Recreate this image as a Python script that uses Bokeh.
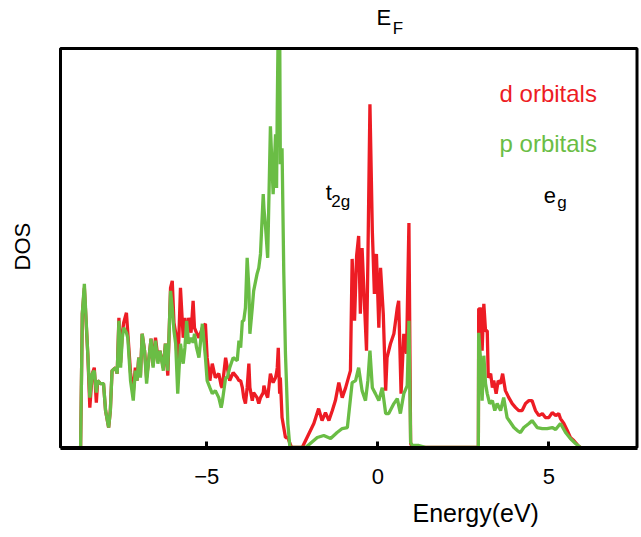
from bokeh.plotting import figure
from bokeh.models import Range1d, FixedTicker, Label, Title
from bokeh.embed import file_html
from bokeh.resources import INLINE

# ---- data (energy in eV, DOS in arbitrary units) ----
# valence band region (shared energy grid)
energy_vb = [-8.69, -8.64, -8.58, -8.48, -8.42, -8.35, -8.29, -8.23, -8.19, -8.11,
             -8.02, -7.96, -7.87, -7.82, -7.77, -7.67, -7.62, -7.57, -7.52, -7.47,
             -7.43, -7.35, -7.31, -7.23, -7.15, -7.09, -7.04, -6.99, -6.94, -6.89,
             -6.82, -6.76, -6.70, -6.63, -6.57, -6.50, -6.43, -6.37, -6.27, -6.21,
             -6.14, -6.06, -6.01, -5.96, -5.91, -5.85, -5.77, -5.69, -5.64, -5.59,
             -5.53, -5.46, -5.40, -5.36, -5.30, -5.23, -5.13, -5.04, -4.99, -4.91,
             -4.84, -4.75, -4.65, -4.58, -4.55, -4.45, -4.40, -4.33, -4.23, -4.11,
             -4.06, -4.01, -3.96, -3.92, -3.87, -3.82, -3.77, -3.74, -3.67, -3.63,
             -3.53, -3.48, -3.43, -3.35, -3.33, -3.28, -3.22, -3.14, -3.06, -2.99,
             -2.96, -2.94, -2.91, -2.87, -2.85, -2.80, -2.75, -2.70, -2.63, -2.57,
             -2.52]
d_vb = [0, 134, 160, 94, 40, 74, 80, 45, 67, 64,
        64, 37, 20, 37, 77, 80, 74, 130, 85, 115,
        125, 135, 115, 75, 55, 80, 67, 90, 72, 114,
        97, 70, 87, 109, 82, 110, 90, 97, 80, 104,
        72, 160, 167, 125, 115, 75, 160, 110, 130, 104,
        130, 115, 147, 120, 115, 110, 120, 124, 90, 67,
        84, 70, 74, 62, 60, 90, 80, 67, 75, 70,
        67, 67, 60, 50, 44, 60, 84, 60, 47, 55,
        50, 44, 50, 55, 62, 55, 50, 74, 65, 70,
        75, 80, 100, 54, 70, 30, 20, 10, 10, 4,
        0]
p_vb = [0, 134, 164, 94, 50, 74, 77, 55, 67, 64,
        64, 37, 20, 37, 77, 80, 74, 127, 80, 110,
        120, 115, 110, 67, 47, 77, 67, 90, 70, 114,
        97, 64, 87, 109, 80, 107, 84, 97, 77, 104,
        77, 157, 140, 117, 104, 54, 104, 84, 100, 127,
        104, 110, 105, 114, 100, 90, 124, 90, 67, 60,
        54, 57, 50, 40, 45, 70, 70, 80, 90, 87,
        107, 100, 127, 127, 140, 190, 160, 114, 140, 157,
        174, 180, 194, 254, 240, 220, 190, 322, 254, 314,
        260, 340, 430, 430, 284, 300, 177, 94, 24, 0,
        0]

# t2g region
energy_d_t2g = [-2.21, -1.87, -1.73, -1.63, -1.53, -1.43, -1.33, -1.24, -1.14, -1.04,
                -0.94, -0.80, -0.75, -0.68, -0.62, -0.56, -0.51, -0.46, -0.41, -0.33,
                -0.29, -0.23, -0.16, -0.10, -0.04, 0.03, 0.08, 0.16, 0.23, 0.27,
                0.37, 0.47, 0.57, 0.61, 0.68, 0.76, 0.84, 0.91, 0.96, 1.01]
d_t2g = [0, 24, 39, 27, 35, 27, 37, 47, 65, 50,
         60, 77, 189, 127, 192, 212, 134, 200, 160, 97,
         187, 344, 217, 154, 194, 120, 180, 134, 57, 90,
         104, 114, 140, 147, 54, 114, 94, 225, 4, 0]
energy_p_t2g = [-2.11, -1.77, -1.58, -1.38, -1.19, -1.04, -0.89, -0.75, -0.65, -0.56,
                -0.46, -0.36, -0.29, -0.23, -0.16, -0.07, 0.03, 0.13, 0.23, 0.32,
                0.47, 0.57, 0.66, 0.76, 0.86, 0.91, 0.96, 1.01, 1.20, 1.42]
p_t2g = [0, 10, 12, 9, 15, 19, 20, 65, 67, 80,
         57, 47, 67, 97, 60, 54, 47, 60, 34, 34,
         44, 49, 34, 54, 62, 127, 5, 2, 2, 0]

# eg region
energy_d_eg = [2.94, 2.95, 3.03, 3.05, 3.10, 3.15, 3.20, 3.23, 3.30, 3.35,
               3.39, 3.46, 3.52, 3.59, 3.65, 3.73, 3.83, 3.93, 4.03, 4.12,
               4.22, 4.32, 4.42, 4.51, 4.61, 4.71, 4.81, 4.90, 5.00, 5.10,
               5.20, 5.29, 5.34, 5.44, 5.54, 5.63, 5.73, 5.88, 5.93]
d_eg = [0, 139, 139, 97, 144, 117, 117, 70, 74, 60,
        67, 54, 67, 64, 74, 57, 50, 44, 40, 37,
        37, 44, 47, 47, 37, 32, 34, 30, 30, 35,
        32, 34, 29, 24, 17, 10, 7, 1, 0]
energy_p_eg = [2.94, 2.95, 3.00, 3.05, 3.10, 3.15, 3.20, 3.27, 3.35, 3.42,
               3.49, 3.59, 3.68, 3.78, 3.88, 3.98, 4.08, 4.17, 4.27, 4.42,
               4.51, 4.66, 4.81, 4.95, 5.10, 5.20, 5.34, 5.49, 5.63, 5.78,
               5.93]
p_eg = [0, 115, 90, 47, 92, 64, 54, 44, 47, 37,
        44, 37, 50, 30, 25, 20, 17, 15, 20, 24,
        27, 20, 19, 19, 20, 18, 24, 15, 9, 4,
        0]

tick_values = [-5, 0, 5]
tick_labels = ["\u22125", "0", "5"]

# plotted box limits (energy axis extent and DOS top)
E_MIN, E_MAX, DOS_TOP = -9.278, 7.579, 400

d_energy = energy_vb + energy_d_t2g + energy_d_eg
d_dos = d_vb + d_t2g + d_eg
p_energy = energy_vb + energy_p_t2g + energy_p_eg
p_dos = p_vb + p_t2g + p_eg

RED = "#ED1C24"
GREEN = "#6ABD45"
FONT = "Liberation Sans"

p = figure(width=640, height=537, output_backend="svg", toolbar_location=None,
           title_location=None,
           x_range=Range1d(-11.032, 7.681), y_range=Range1d(-1, 448),
           min_border_left=0, min_border_right=0, min_border_top=0,
           min_border_bottom=88)
p.background_fill_color = "white"
p.border_fill_color = "white"
p.outline_line_color = None
p.xgrid.visible = False
p.ygrid.visible = False
p.yaxis.visible = False

p.line(d_energy, d_dos, line_color=RED, line_width=3.3)
p.line(p_energy, p_dos, line_color=GREEN, line_width=3.3)

# white mask above the box top (clips the tall p peak), then the box
p.quad(left=[E_MIN], right=[E_MAX], bottom=[DOS_TOP], top=[448],
       fill_color="white", line_color=None)
p.quad(left=[E_MIN], right=[E_MAX], bottom=[0], top=[DOS_TOP],
       fill_color=None, line_color="black", line_width=3)

ax = p.xaxis[0]
ax.bounds = (E_MIN, E_MAX)
ax.ticker = FixedTicker(ticks=tick_values)
ax.major_label_overrides = {v: s for v, s in zip(tick_values, tick_labels)}
ax.minor_tick_line_color = None
ax.major_tick_in = 7
ax.major_tick_out = 0
ax.major_tick_line_width = 3
ax.major_tick_line_color = "black"
ax.axis_line_width = 3
ax.axis_line_color = "black"
ax.major_label_text_font = FONT
ax.major_label_text_font_size = "22px"
ax.major_label_text_color = "black"
ax.major_label_standoff = 20

p.add_layout(Title(text="Energy(eV)", align="left", offset=412, text_font=FONT,
                   text_font_size="25px", text_font_style="normal",
                   text_color="black", standoff=21), "below")


def lab(x, y, text, size, color="black", **kw):
    p.add_layout(Label(x=x, y=y, text=text, text_font=FONT, text_font_size=size,
                       text_color=color, **kw))


lab(-0.04, 418.7, "E", "22px")
lab(0.44, 410.7, "F", "17px")
lab(-1.52, 243, "t", "22px")
lab(-1.36, 237.5, "2g", "17px")
lab(4.85, 244.7, "e", "22px")
lab(5.25, 236.3, "g", "17px")
lab(3.56, 341.3, "d orbitals", "24px", RED)
lab(3.56, 291.3, "p orbitals", "24px", GREEN)
lab(-10.38, 201.4, "DOS", "22px", text_align="center", text_baseline="middle",
    angle=1.5708)

open("out.html", "w").write(file_html(p, INLINE))
